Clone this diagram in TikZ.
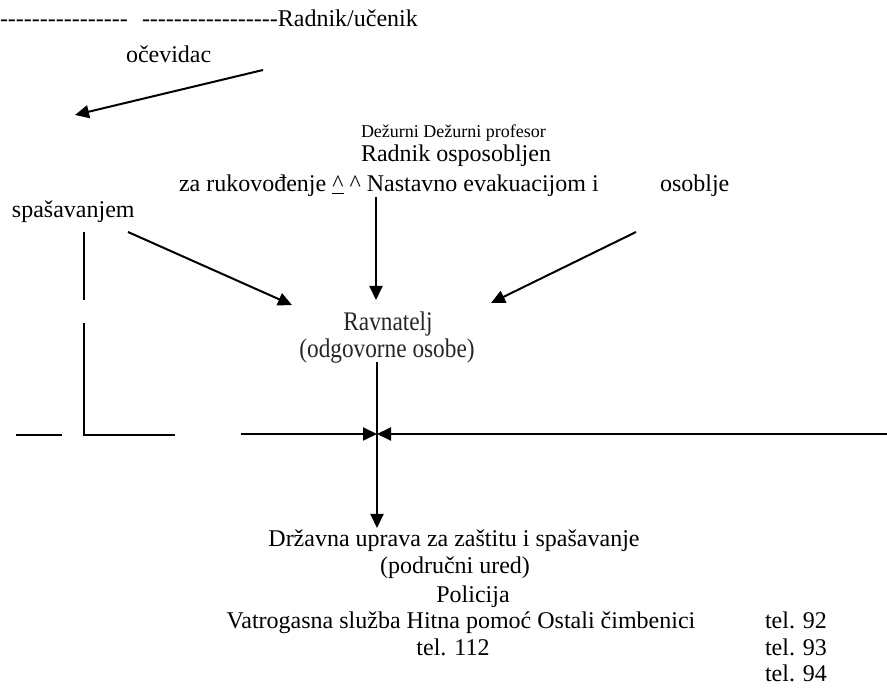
\documentclass[tikz,border=0pt]{standalone}
\usepackage{fontspec}
\setmainfont{Liberation Serif}
\usetikzlibrary{arrows.meta}
\newcommand\hyruns[1]{\foreach\k in {1,...,#1}{-\kern0pt}}
\begin{document}
\begin{tikzpicture}[x=1pt,y=-1pt,
  txt/.style={inner sep=0pt,outer sep=0pt,font=\fontsize{24}{28}\selectfont},
  smalltxt/.style={inner sep=0pt,outer sep=0pt,font=\fontsize{18}{20}\selectfont},
  ln/.style={line width=2pt},
  arr/.style={line width=2pt,-{Triangle[length=14pt,width=13pt]}}]
\useasboundingbox (0,0) rectangle (887,700);
% top row
\node[txt,anchor=base west] (d1) at (0,27) {\hyruns{16}};
\node[txt,anchor=base west] (ru) at (142,27) {\hyruns{17}Radnik/učenik};
\node[txt,anchor=base west] (oc) at (126,63) {očevidac};
\coordinate (oa) at (263,70);
\coordinate (ob) at (75,115);
\draw[arr] (oa) -- (ob);
% upper texts
\node[smalltxt,anchor=base west] (dz) at (361,138) {Dežurni Dežurni profesor};
\node[txt,anchor=base west] (ro) at (361,162) {Radnik osposobljen};
\node[txt,anchor=base west] (za) at (179,192) {za rukovođenje \underline{\textasciicircum} \textasciicircum{} Nastavno evakuacijom i};
\node[txt,anchor=base west] (os) at (660,192) {osoblje};
\node[txt,anchor=base west] (sp) at (12,218) {spašavanjem};
% Ravnatelj
\node[txt,anchor=base,text=black!85] (rv) at (388,331) {\scalebox{0.97}[1.12]{Ravnatelj}};
\node[txt,anchor=base,text=black!85] (oo) at (387,358) {\scalebox{0.97}[1.12]{(odgovorne osobe)}};
% arrows into Ravnatelj
\coordinate (spa) at (128,232);
\coordinate (rvl) at (292,305);
\coordinate (zaa) at (376,197);
\coordinate (rvt) at (376,300);
\coordinate (osa) at (636,232);
\coordinate (rvr) at (491,303);
\draw[arr] (spa) -- (rvl);
\draw[arr] (zaa) -- (rvt);
\draw[arr] (osa) -- (rvr);
% left tree
\coordinate (v1a) at (84,232);
\coordinate (v1b) at (84,300);
\coordinate (v2a) at (84,323);
\coordinate (v2b) at (84,435);
\coordinate (h2b) at (175,435);
\coordinate (h1a) at (16,435);
\coordinate (h1b) at (62,435);
\draw[ln] (v1a) -- (v1b);
\draw[ln] (v2a) -- (v2b) -- (h2b);
\draw[ln] (h1a) -- (h1b);
% junction
\coordinate (jn) at (377,434);
\coordinate (hl) at (241,434);
\coordinate (hr) at (887,434);
\coordinate (vt) at (377,362);
\coordinate (vb) at (377,528);
\draw[arr] (hl) -- (jn);
\draw[arr] (hr) -- (jn);
\draw[arr] (vt) -- (vb);
% bottom texts
\node[txt,anchor=base] (du) at (454,547) {Državna uprava za zaštitu i spašavanje};
\node[txt,anchor=base] (pu) at (455,573) {(područni ured)};
\node[txt,anchor=base] (po) at (473,602) {Policija};
\node[txt,anchor=base] (vs) at (461,628) {Vatrogasna služba Hitna pomoć Ostali čimbenici};
\node[txt,anchor=base] (t112) at (453,655) {tel. 112};
\node[txt,anchor=base west] (t92) at (765,628) {tel. 92};
\node[txt,anchor=base west] (t93) at (765,655) {tel. 93};
\node[txt,anchor=base west] (t94) at (765,681) {tel. 94};
\end{tikzpicture}
\end{document}
